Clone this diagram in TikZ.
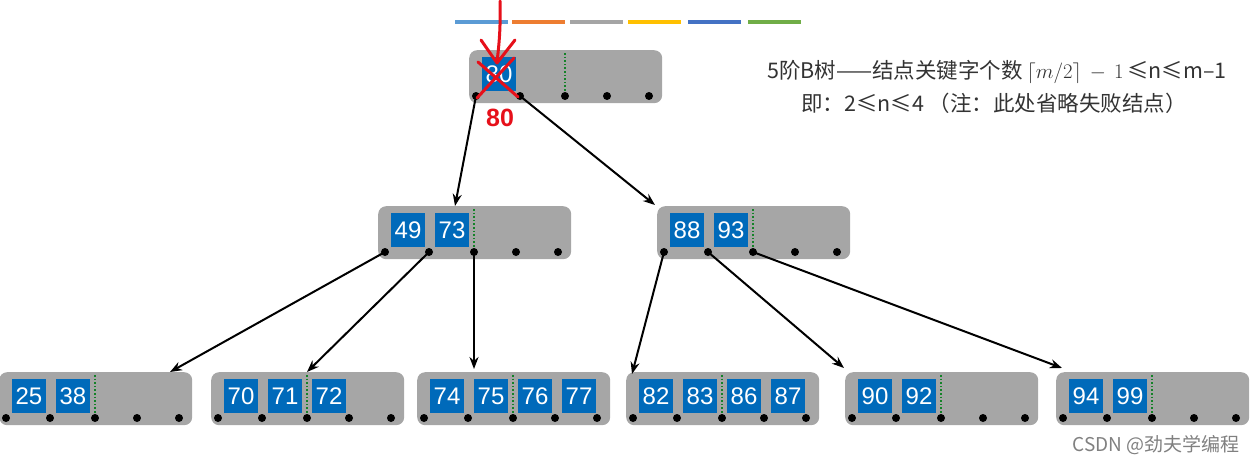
\documentclass[tikz,border=0pt]{standalone}
\usepackage{fontspec}
\setmainfont{Liberation Sans}
\newfontfamily\cjk{Noto Sans CJK SC}
\usetikzlibrary{arrows.meta,calc}

\definecolor{boxgray}{RGB}{166,166,166}
\definecolor{keyblue}{RGB}{0,106,186}
\definecolor{sepgreen}{RGB}{20,130,40}
\definecolor{pen}{RGB}{230,16,26}
\definecolor{note}{RGB}{51,51,51}
\definecolor{barA}{RGB}{91,155,213}
\definecolor{barB}{RGB}{237,125,49}
\definecolor{barC}{RGB}{165,165,165}
\definecolor{barD}{RGB}{255,192,0}
\definecolor{barE}{RGB}{68,114,196}
\definecolor{barF}{RGB}{112,173,71}

\tikzset{
  bbox/.style={fill=boxgray, rounded corners=8pt, minimum width=193pt,
    minimum height=53pt, inner sep=0pt},
  key/.style={fill=keyblue, text=white, minimum size=34pt, inner sep=0pt,
    font=\fontsize{24}{24}\selectfont},
  sep/.style={sepgreen, dotted, line width=1.6pt},
  ptr/.style={line width=2pt, -{Stealth[length=12pt,width=9pt]}},
  redpen/.style={pen, line width=3pt, line cap=round, line join=round},
}

% name, left, top, keys
\newcommand{\btnode}[4]{%
  \node[bbox, anchor=north west] (#1) at (#2,#3) {};
  \foreach \d [count=\i] in {7,51,96,138,180}
    \coordinate (#1-\i) at ({#2+\d},{#3+46});
  \foreach \k [count=\i] in {#4}
    \node[key] (#1-k\i) at ({#2+30+44*(\i-1)},{#3+24}) {\k};
  \draw[sep] ({#2+96},{#3+3}) -- (#1-3);
  \foreach \i in {1,...,5}
    \fill (#1-\i) circle (4pt);
}

\begin{document}
\begin{tikzpicture}[x=1pt, y=-1pt]
  \useasboundingbox (0,0) rectangle (1260,466);

  % colour bars
  \foreach \x/\c in {455/barA,512/barB,570/barC,628/barD,688/barE,748/barF}
    \draw[\c, line width=4.5pt] (\x,22) -- ++(53,0);

  % tree nodes
  \btnode{n80}{469}{50}{80}
  \btnode{n49}{378}{206}{49,73}
  \btnode{n88}{657}{206}{88,93}
  \btnode{n25}{-1}{372}{25,38}
  \btnode{n70}{211}{372}{70,71,72}
  \btnode{n74}{417}{372}{74,75,76,77}
  \btnode{n82}{626}{372}{82,83,86,87}
  \btnode{n90}{845}{372}{90,92}
  \btnode{n94}{1056}{372}{94,99}

  % pointers
  \draw[ptr] (n80-1) -- ($(n49.north west)+(77,0)$);
  \draw[ptr] (n80-2) -- ($(n88.north west)+(-2,-1)$);
  \draw[ptr] (n49-1) -- ($(n25.north west)+(171,0)$);
  \draw[ptr] (n49-2) -- ($(n70.north west)+(96,0)$);
  \draw[ptr] (n49-3) -- ($(n74.north west)+(57,-3)$);
  \draw[ptr] (n88-1) -- ($(n82.north west)+(6,2)$);
  \draw[ptr] (n88-2) -- ($(n90.north west)+(-1,-4)$);
  \draw[ptr] (n88-3) -- ($(n94.north west)+(6,-4)$);

  % red marks on the root
  \draw[redpen] (500,1) to[bend left=4] (497,62);
  \draw[redpen] (481,40) -- (497,63) -- (515,40);
  \draw[redpen] (478,62) -- (518,97);
  \draw[redpen] (514,58) -- (477,98);
  \node[text=pen, font=\bfseries\fontsize{25}{25}\selectfont] (mark80) at (500,118) {80};

  % notes
  \node[text=note, font=\cjk\fontsize{21.5}{21.5}\selectfont] (cap1) at (997,72)
    {5阶B树——结点关键字个数\,$\left\lceil m/2\right\rceil\, -\, 1$\,≤n≤m–1};
  \node[text=note, font=\cjk\fontsize{21.5}{21.5}\selectfont] (cap2) at (994,103)
    {即：2≤n≤4 （注：此处省略失败结点）};
  \node[text=gray, font=\cjk\fontsize{19}{19}\selectfont, anchor=east] (mark) at (1243,445)
    {CSDN @劲夫学编程};
\end{tikzpicture}
\end{document}
